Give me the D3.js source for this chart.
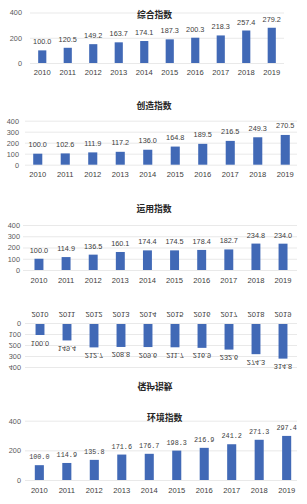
<!DOCTYPE html>
<html><head><meta charset="utf-8">
<script src="https://cdn.jsdelivr.net/npm/d3@7"></script>
<style>html,body{margin:0;padding:0;background:#fff;}svg{display:block;}</style>
</head><body>
<svg id="c" width="307" height="504"></svg>
<script>
const years = ["2010","2011","2012","2013","2014","2015","2016","2017","2018","2019"];
const titles = ["综合指数","创造指数","运用指数","保护指数","环境指数"];
const zongheValues = [100.0,120.5,149.2,163.7,174.1,187.3,200.3,218.3,257.4,279.2];
const chuangzaoValues = [100.0,102.6,111.9,117.2,136.0,164.8,189.5,216.5,249.3,270.5];
const yunyongValues = [100.0,114.9,136.5,160.1,174.4,174.5,178.4,182.7,234.8,234.0];
const baohuValues = [100.0,149.4,212.7,208.8,209.6,211.7,216.9,232.6,274.3,314.8];
const huanjingValues = [100.0,114.9,135.8,171.6,176.7,198.3,216.9,241.2,271.3,297.4];
const ticksA = [0,200,400];
const ticksB = [0,100,200,300,400];

const svg = d3.select("#c");
const BAR = "#4169b6";
const FONT = "'Liberation Sans', Arial, sans-serif";

function panel(o){
  const g = svg.append("g");
  if (o.flip) g.attr("transform", `translate(0,${o.flip}) scale(1,-1)`);
  const x = d3.scaleBand().domain(years).range(o.xr).paddingInner(o.pad).paddingOuter(o.pad/2);
  const y = d3.scaleLinear().domain([0,400]).range([o.y0,o.y1]);
  // grid
  const ax = d3.axisLeft(y).tickValues(o.ticks).tickSize(-(o.gx[1]-o.gx[0])).tickFormat(d3.format("d")).tickPadding(o.gx[0]-o.ylx);
  const ga = g.append("g").attr("transform",`translate(${o.gx[0]},0)`).call(ax);
  ga.select(".domain").remove();
  ga.selectAll(".tick line").attr("stroke","#e3e3e3").attr("stroke-width",0.8);
  ga.selectAll(".tick text").attr("fill","#595959").style("font-family",FONT).style("font-size","7.3px");
  // bars
  const bw = x.bandwidth();
  g.selectAll("rect.b").data(o.values).join("rect").attr("class","b")
    .attr("x",(d,i)=>x(years[i]))
    .attr("width",bw)
    .attr("y",d=>y(d)).attr("height",d=>y(0)-y(d))
    .attr("fill",BAR);
  // value labels
  g.selectAll("text.v").data(o.values).join("text").attr("class","v")
    .attr("x",(d,i)=>x(years[i])+bw/2)
    .attr("y",d=>y(d)-o.vo)
    .attr("text-anchor","middle")
    .attr("fill","#404040")
    .style("font-family",o.vfont||FONT).style("font-size",(o.vfs||7.3)+"px")
    .text(d=>d.toFixed(1));
  // x labels
  const xa = d3.axisBottom(x).tickSize(0).tickPadding(0);
  const gx = g.append("g").attr("transform",`translate(0,${o.yl})`).call(xa);
  gx.select(".domain").remove();
  gx.selectAll(".tick text").attr("fill","#404040").attr("dy","0.35em").attr("y",0).style("font-family",FONT).style("font-size","7.6px");
  // title
  g.append("text").attr("x",o.tx).attr("y",o.ty).attr("dy","0.35em").attr("text-anchor","middle")
    .attr("fill","#262626").style("font-family","'Noto Sans CJK SC', sans-serif").style("font-weight","bold").style("font-size","8.8px")
    .text(o.title);
}

panel({title:titles[0],values:zongheValues,ticks:ticksA,y0:63,y1:12.5,xr:[29.5,284.5],gx:[30,284],ylx:22,pad:0.68,vo:6,yl:72.5,tx:154.5,ty:15});
panel({title:titles[1],values:chuangzaoValues,ticks:ticksB,y0:164.7,y1:120.7,xr:[24,299],gx:[25,297],ylx:19,pad:0.67,vo:6.5,yl:174.5,tx:154,ty:106});
panel({title:titles[2],values:yunyongValues,ticks:ticksB,y0:270,y1:225,xr:[25.4,296.6],gx:[23,297],ylx:20,pad:0.67,vo:6,yl:280.5,tx:154,ty:209});
panel({title:titles[3],values:baohuValues,ticks:ticksB,y0:270,y1:226,xr:[26.5,296.5],gx:[25,297],ylx:21,pad:0.67,vo:5.5,yl:279.5,tx:155,ty:208,flip:594});
panel({title:titles[4],values:huanjingValues,ticks:ticksA,y0:480,y1:420.7,xr:[25.6,300.4],gx:[25,297],ylx:21,pad:0.67,vo:6,yl:490.5,tx:164.7,ty:418,vfont:"'Liberation Mono', monospace",vfs:6.8});
</script>
</body></html>
